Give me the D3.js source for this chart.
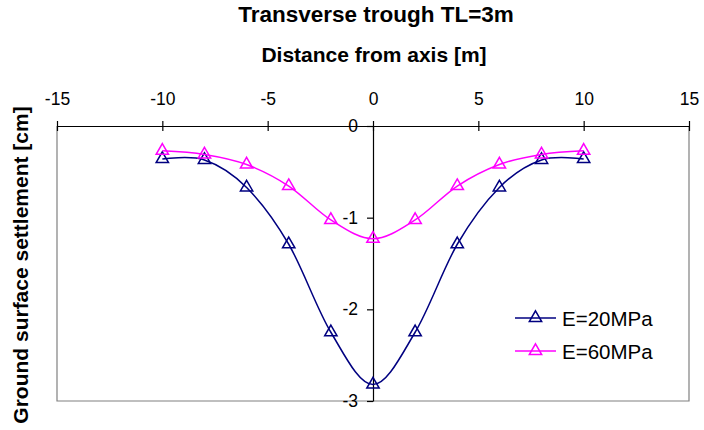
<!DOCTYPE html>
<html>
<head>
<meta charset="utf-8">
<script src="https://cdn.jsdelivr.net/npm/d3@7"></script>
<style>
  html, body { margin: 0; padding: 0; background: #fff; }
  svg { display: block; font-family: "Liberation Sans", Arial, sans-serif; }
</style>
</head>
<body>
<svg id="chart" width="704" height="430"></svg>
<script>
// Distance from tunnel axis [m]
const distances = [-10, -8, -6, -4, -2, 0, 2, 4, 6, 8, 10];
// Ground surface settlement [cm] per soil modulus
const settlementE20 = [-0.36, -0.37, -0.67, -1.29, -2.25, -2.82, -2.25, -1.29, -0.67, -0.37, -0.36];
const settlementE60 = [-0.27, -0.31, -0.42, -0.655, -1.025, -1.23, -1.025, -0.655, -0.42, -0.31, -0.27];
const seriesNames = ["E=20MPa", "E=60MPa"];
const seriesColors = ["#000080", "#FF00FF"];
const xTicks = [-15, -10, -5, 0, 5, 10, 15];
const yTicks = [0, -1, -2, -3];

const svg = d3.select("#chart");
const plotLeft = 57, plotRight = 689, plotTop = 126, plotBottom = 401;

const x = d3.scaleLinear().domain([-15, 15]).range([plotLeft, plotRight]);
const y = d3.scaleLinear().domain([0, -3]).range([plotTop, plotBottom]);

// Plot area frame (left, bottom, right)
svg.append("path")
  .attr("d", `M${plotLeft},${plotTop}V${plotBottom}H${plotRight}V${plotTop}`)
  .attr("fill", "none")
  .attr("stroke", "#808080")
  .attr("stroke-width", 1.2);

// Top x axis with crossing ticks
const xAxisG = svg.append("g").attr("transform", `translate(0,${plotTop})`);
xAxisG.call(d3.axisTop(x).tickValues(xTicks).tickSizeInner(0).tickSizeOuter(0));
xAxisG.select(".domain").attr("stroke", "#000").attr("stroke-width", 1.2);
xAxisG.selectAll(".tick line").remove();
xAxisG.selectAll(".tick").append("line")
  .attr("y1", -5).attr("y2", 5).attr("stroke", "#000").attr("stroke-width", 1.2);
xAxisG.selectAll(".tick text")
  .text(d => String(d))
  .attr("y", -21)
  .attr("dy", 0)
  .attr("fill", "#000")
  .style("font-size", "17.5px")
  .style("font-family", "'Liberation Sans', Arial, sans-serif");

// Vertical y axis at distance 0
const yAxisG = svg.append("g").attr("transform", `translate(${x(0)},0)`);
yAxisG.call(d3.axisLeft(y).tickValues(yTicks).tickSizeInner(6).tickSizeOuter(0).tickPadding(9));
yAxisG.select(".domain").attr("stroke", "#000").attr("stroke-width", 1.2);
yAxisG.selectAll(".tick line").attr("stroke", "#000").attr("stroke-width", 1.2);
yAxisG.selectAll(".tick text")
  .text(d => String(d))
  .attr("fill", "#000")
  .style("font-size", "17.5px")
  .style("font-family", "'Liberation Sans', Arial, sans-serif");

// Titles
svg.append("text")
  .attr("x", 376).attr("y", 22)
  .attr("text-anchor", "middle")
  .style("font-weight", "bold").style("font-size", "22.5px")
  .text("Transverse trough TL=3m");
svg.append("text")
  .attr("x", 374).attr("y", 62)
  .attr("text-anchor", "middle")
  .style("font-weight", "bold").style("font-size", "21px")
  .text("Distance from axis [m]");
svg.append("text")
  .attr("transform", "translate(28,265) rotate(-90)")
  .attr("text-anchor", "middle")
  .style("font-weight", "bold").style("font-size", "21px")
  .text("Ground surface settlement [cm]");

// Series
const series = [settlementE20, settlementE60];
const line = d3.line()
  .x((d, i) => x(distances[i]))
  .y(d => y(d))
  .curve(d3.curveCardinal.tension(0));

const tri = d3.symbol().type(d3.symbolTriangle).size(66);

series.forEach((vals, si) => {
  const g = svg.append("g");
  g.append("path")
    .datum(vals)
    .attr("d", line)
    .attr("fill", "none")
    .attr("stroke", seriesColors[si])
    .attr("stroke-width", 1.5);
  g.selectAll("path.mark")
    .data(vals)
    .enter().append("path")
    .attr("class", "mark")
    .attr("d", tri)
    .attr("transform", (d, i) => `translate(${x(distances[i])},${y(d)})`)
    .attr("fill", "none")
    .attr("stroke", seriesColors[si])
    .attr("stroke-width", 1.5);
});

// Legend
const legend = svg.append("g");
seriesNames.forEach((name, i) => {
  const ly = 318 + i * 33;
  legend.append("line")
    .attr("x1", 515).attr("x2", 556).attr("y1", ly).attr("y2", ly)
    .attr("stroke", seriesColors[i]).attr("stroke-width", 1.5);
  legend.append("path")
    .attr("d", tri)
    .attr("transform", `translate(535.5,${ly})`)
    .attr("fill", "none")
    .attr("stroke", seriesColors[i]).attr("stroke-width", 1.5);
  legend.append("text")
    .attr("x", 562).attr("y", ly + 7.5)
    .style("font-size", "20.5px")
    .text(name);
});
</script>
</body>
</html>
